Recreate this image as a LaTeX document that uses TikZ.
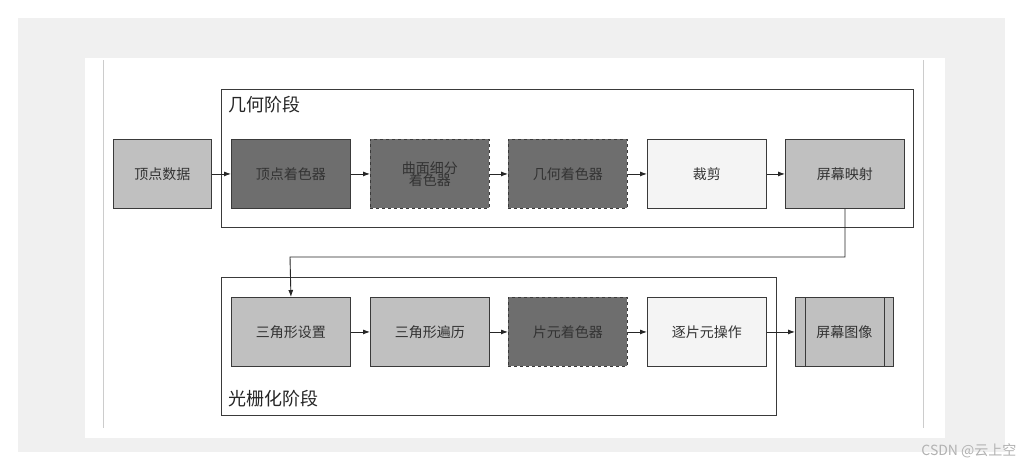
\documentclass[tikz,border=0pt]{standalone}
\usepackage{fontspec}
\setmainfont{Noto Sans CJK SC}
\usetikzlibrary{arrows.meta}
\definecolor{lg}{HTML}{C0C0C0}
\definecolor{dg}{HTML}{6E6E6E}
\definecolor{wg}{HTML}{F4F4F4}
\definecolor{ln}{HTML}{3A3A3A}
\begin{document}
\begin{tikzpicture}[x=1pt,y=-1pt,
 box/.style={draw=ln,line width=0.9pt,minimum width=119pt,minimum height=69pt,inner sep=0pt,font=\fontsize{14}{15}\selectfont,text=black!80,align=center,anchor=north west},
 dsh/.style={box,dashed,fill=dg},
 arr/.style={-{Latex[length=7pt,width=5pt]},line width=0.9pt,draw=black!85},
 stage/.style={draw=ln,line width=0.9pt}]
\useasboundingbox (0,0) rectangle (1024,469);
\fill[white] (0,0) rectangle (1024,469);
\fill[black!6] (18,18) rectangle (1005,452);
\fill[white] (85,58) rectangle (945,438);
\draw[black!20,line width=0.8pt] (103,60) -- (103,428);
\draw[black!20,line width=0.8pt] (923,60) -- (923,428);
\draw[stage] (221,89) rectangle (913,227);
\node[anchor=west,font=\fontsize{18}{20}\selectfont,text=black!85] (gl) at (225,105) {几何阶段};
\draw[stage] (221,277) rectangle (776,415);
\node[anchor=west,font=\fontsize{18}{20}\selectfont,text=black!85] (rl) at (225,399) {光栅化阶段};
\node[box,fill=lg,minimum width=98pt] (a) at (113,139) {顶点数据};
\node[box,fill=dg] (b) at (231,139) {顶点着色器};
\node[dsh] (c) at (370,139) {曲面细分\\[-3pt]着色器};
\node[dsh] (d) at (508,139) {几何着色器};
\node[box,fill=wg] (e) at (647,139) {裁剪};
\node[box,fill=lg] (f) at (785,139) {屏幕映射};
\node[box,fill=lg] (g) at (231,297) {三角形设置};
\node[box,fill=lg] (h) at (370,297) {三角形遍历};
\node[dsh] (i) at (508,297) {片元着色器};
\node[box,fill=wg] (j) at (647,297) {逐片元操作};
\node[box,fill=lg,minimum width=98pt] (k) at (795,297) {屏幕图像};
\draw[ln,line width=0.9pt] (805,297) -- (805,366) (884,297) -- (884,366);
\draw[arr] (a) -- (b);
\draw[arr] (b) -- (c);
\draw[arr] (c) -- (d);
\draw[arr] (d) -- (e);
\draw[arr] (e) -- (f);
\draw[arr] (g) -- (h);
\draw[arr] (h) -- (i);
\draw[arr] (i) -- (j);
\draw[arr] (j) -- (k);
\coordinate (t1) at (845,257);
\coordinate (t2) at (290,257);
\draw[arr] (f.south) -- (t1) -- (t2) -- (g.north);
\node[anchor=east,font=\fontsize{14}{15}\selectfont,text=black!30] (wm) at (1020,451) {CSDN @云上空};
\end{tikzpicture}
\end{document}
